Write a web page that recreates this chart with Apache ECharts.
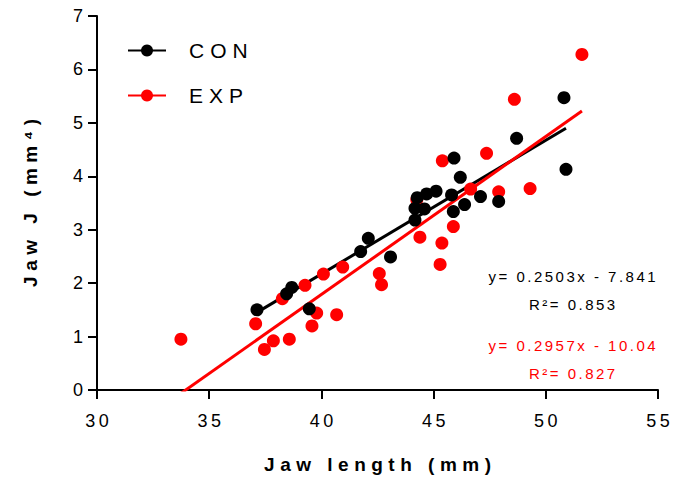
<!DOCTYPE html>
<html>
<head>
<meta charset="utf-8">
<script src="https://cdn.jsdelivr.net/npm/echarts@6/dist/echarts.min.js"></script>
<style>
  html, body { margin: 0; padding: 0; background: #fff; }
  #chart { width: 673px; height: 483px; }
</style>
</head>
<body>
<div id="chart"></div>
<script>
// Jaw length (mm) vs. jaw J (mm^4), control and experimental groups
const conLength = [37.13, 38.45, 38.68, 39.46, 41.75, 42.09, 43.08, 44.17, 44.17, 44.59, 44.27, 44.69,
                   45.11, 45.80, 45.88, 45.91, 46.19, 46.38, 47.09, 47.90, 48.70, 50.81, 50.90];
const conJ      = [1.50, 1.80, 1.92, 1.52, 2.59, 2.84, 2.49, 3.18, 3.40, 3.39, 3.60, 3.67,
                   3.72, 3.65, 3.34, 4.34, 3.98, 3.47, 3.62, 3.53, 4.71, 5.47, 4.13];

const expLength = [33.74, 37.07, 37.46, 37.86, 38.26, 38.57, 39.27, 39.58, 39.79, 40.09, 40.68, 40.95, 42.58,
                   42.68, 44.25, 44.39, 45.29, 45.37, 45.39, 45.88, 46.65, 47.36, 47.90, 48.60, 49.30, 51.61];
const expJ      = [0.95, 1.24, 0.76, 0.92, 1.71, 0.95, 1.96, 1.20, 1.44, 2.17, 1.41, 2.30, 2.18,
                   1.97, 3.56, 2.86, 2.35, 2.75, 4.29, 3.06, 3.76, 4.43, 3.71, 5.44, 3.77, 6.28];

// Linear fits: [slope, intercept, R²]
const conFit = [0.2503, -7.841, 0.853];
const expFit = [0.2957, -10.04, 0.827];

const groupNames = ['CON', 'EXP'];
const xTicks = [30, 35, 40, 45, 50, 55];
const yTicks = [0, 1, 2, 3, 4, 5, 6, 7];

const BLACK = '#000000';
const RED = '#ff0000';
const FONT = '"Liberation Sans", Arial, sans-serif';

function pairs(xs, ys) { return xs.map((x, i) => [x, ys[i]]); }
function fitLine(xs, fit) {
  const lo = Math.min(...xs), hi = Math.max(...xs);
  return [[lo, fit[1] + fit[0] * lo], [hi, fit[1] + fit[0] * hi]];
}
function eqText(fit) {
  return 'y= ' + fit[0].toFixed(4) + 'x - ' + String(Math.abs(fit[1]));
}

const chart = echarts.init(document.getElementById('chart'), null, { renderer: 'svg' });

const option = {
  animation: false,
  backgroundColor: '#ffffff',
  grid: { left: 97, right: 15, top: 16, bottom: 93, containLabel: false, outerBoundsMode: 'none' },
  legend: {
    orient: 'vertical',
    left: 127,
    top: 40,
    padding: 0,
    itemWidth: 38,
    itemHeight: 15,
    itemGap: 24,
    data: groupNames,
    textStyle: { fontFamily: FONT, fontSize: 21, color: BLACK, padding: [0, 0, 0, 18] }
  },
  xAxis: {
    type: 'value',
    min: xTicks[0],
    max: xTicks[xTicks.length - 1],
    interval: 5,
    name: 'Jaw length (mm)',
    nameLocation: 'middle',
    nameGap: 65,
    nameTextStyle: { fontFamily: FONT, fontSize: 19, fontWeight: 'bold', color: BLACK },
    axisLine: { lineStyle: { color: BLACK, width: 2 } },
    axisTick: { length: 9, lineStyle: { color: BLACK, width: 2 } },
    axisLabel: { fontFamily: FONT, fontSize: 18, color: BLACK, margin: 22 },
    splitLine: { show: false }
  },
  yAxis: {
    type: 'value',
    min: yTicks[0],
    max: yTicks[yTicks.length - 1],
    interval: 1,
    name: 'Jaw J (mm\u2074)',
    nameLocation: 'middle',
    nameGap: 57,
    nameTextStyle: { fontFamily: FONT, fontSize: 19, fontWeight: 'bold', color: BLACK },
    axisLine: { lineStyle: { color: BLACK, width: 2 } },
    axisTick: { length: 9, lineStyle: { color: BLACK, width: 2 } },
    axisLabel: { fontFamily: FONT, fontSize: 18, color: BLACK, margin: 14 },
    splitLine: { show: false }
  },
  series: [
    {
      name: 'CON', type: 'line', data: fitLine(conLength, conFit),
      symbol: 'circle', showSymbol: false, color: BLACK,
      lineStyle: { color: BLACK, width: 3 }, silent: true, z: 2
    },
    {
      name: 'EXP', type: 'line', data: fitLine(expLength, expFit),
      symbol: 'circle', showSymbol: false, color: RED,
      lineStyle: { color: RED, width: 3 }, silent: true, z: 2
    },
    {
      name: 'EXP', type: 'scatter', data: pairs(expLength, expJ),
      symbol: 'circle', symbolSize: 13, itemStyle: { color: RED, opacity: 1 }, z: 3
    },
    {
      name: 'CON', type: 'scatter', data: pairs(conLength, conJ),
      symbol: 'circle', symbolSize: 13, itemStyle: { color: BLACK, opacity: 1 }, z: 4
    }
  ],
  graphic: [
    { type: 'text', x: 572, y: 276, style: { text: eqText(conFit), fill: BLACK, font: '15px ' + FONT, textAlign: 'center', textVerticalAlign: 'middle' } },
    { type: 'text', x: 572, y: 304, style: { text: 'R\u00b2= ' + conFit[2].toFixed(3), fill: BLACK, font: '15px ' + FONT, textAlign: 'center', textVerticalAlign: 'middle' } },
    { type: 'text', x: 572, y: 345, style: { text: eqText(expFit), fill: RED, font: '15px ' + FONT, textAlign: 'center', textVerticalAlign: 'middle' } },
    { type: 'text', x: 572, y: 373, style: { text: 'R\u00b2= ' + expFit[2].toFixed(3), fill: RED, font: '15px ' + FONT, textAlign: 'center', textVerticalAlign: 'middle' } }
  ]
};

chart.setOption(option);

// Wide tracking on the text, by font size (px -> letter spacing px)
const TRACKING = { 15: 2.5, 18: 3.5, 19: 5.5, 21: 6 };
function applyTracking() {
  document.querySelectorAll('#chart text').forEach(t => {
    if (t.dataset.tracked) return;
    const fs = Math.round(parseFloat(getComputedStyle(t).fontSize));
    const s = TRACKING[fs];
    if (!s || t.textContent.length < 2) return;
    t.setAttribute('letter-spacing', s + 'px');
    const anchor = t.getAttribute('text-anchor') || getComputedStyle(t).textAnchor;
    if (anchor === 'middle') t.setAttribute('dx', (s / 2).toFixed(1));
    else if (anchor === 'end') t.setAttribute('dx', s.toFixed(1));
    t.dataset.tracked = '1';
  });
}
chart.on('finished', applyTracking);
setTimeout(applyTracking, 50);
</script>
</body>
</html>
